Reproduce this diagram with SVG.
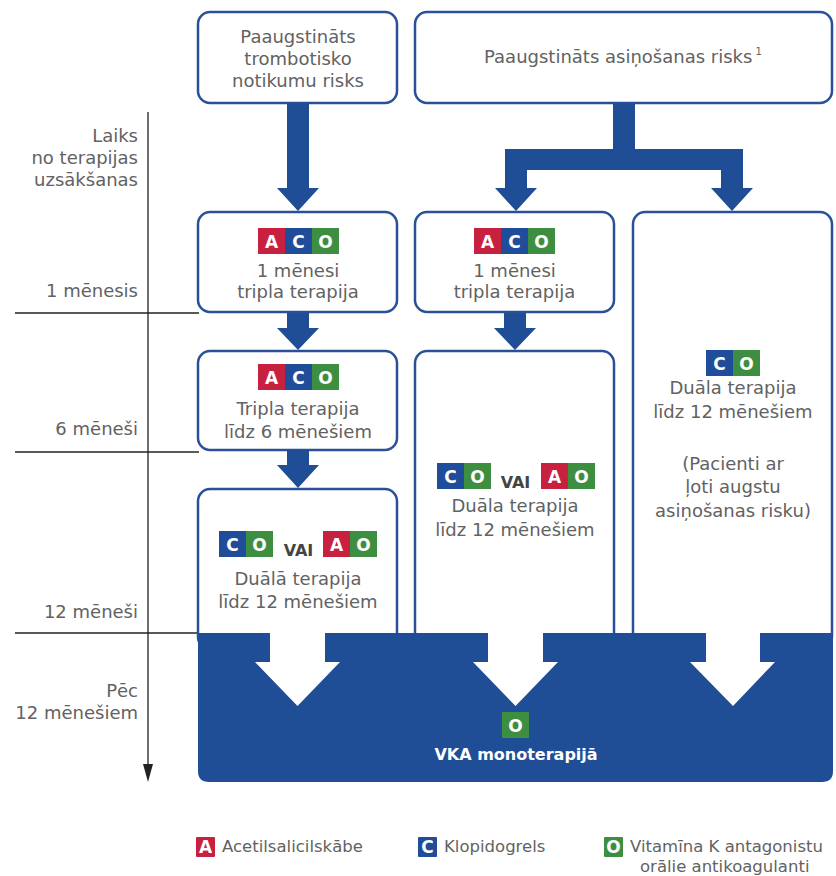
<svg xmlns="http://www.w3.org/2000/svg" width="836" height="876" viewBox="0 0 836 876">
<style>
.box{fill:#fff;stroke:#2a5197;stroke-width:2.5}
.arr{fill:#1f4e96}
.t{font-family:"DejaVu Sans",sans-serif;font-size:18px;fill:#626262;text-anchor:middle}
.lab{font-family:"DejaVu Sans",sans-serif;font-size:18px;fill:#626262;text-anchor:end}
.leg{font-family:"DejaVu Sans",sans-serif;font-size:16.5px;fill:#626262}
.bl{font-family:"DejaVu Sans",sans-serif;font-size:17px;font-weight:bold;fill:#fff;text-anchor:middle}
.vai{font-family:"DejaVu Sans",sans-serif;font-size:16px;font-weight:bold;fill:#444;text-anchor:middle}
.r{fill:#c8213f}.b{fill:#1f4d99}.g{fill:#3e8e41}
.ax{stroke:#222;stroke-width:1.3;fill:none}
</style>

<!-- timeline -->
<g id="timeline">
<line class="ax" x1="148" y1="112" x2="148" y2="766"/>
<polygon points="143,764 153,764 148,782" fill="#222"/>
<line class="ax" x1="15" y1="313" x2="199" y2="313"/>
<line class="ax" x1="15" y1="452" x2="199" y2="452"/>
<line class="ax" x1="15" y1="633" x2="199" y2="633"/>
<text class="lab" x="138" y="142">Laiks</text>
<text class="lab" x="138" y="164">no terapijas</text>
<text class="lab" x="138" y="186">uzsākšanas</text>
<text class="lab" x="138" y="297">1 mēnesis</text>
<text class="lab" x="138" y="435">6 mēneši</text>
<text class="lab" x="138" y="618">12 mēneši</text>
<text class="lab" x="138" y="697">Pēc</text>
<text class="lab" x="138" y="719">12 mēnešiem</text>
</g>

<g id="n-thrombotic">
<rect class="box" x="198" y="12" width="199" height="91" rx="12"/>
<text class="t" x="298" y="43">Paaugstināts</text>
<text class="t" x="298" y="65">trombotisko</text>
<text class="t" x="298" y="87">notikumu risks</text>
</g>

<g id="n-bleeding">
<rect class="box" x="415" y="12" width="417" height="91" rx="12"/>
<text class="t" x="623" y="63">Paaugstināts asiņošanas risks<tspan font-size="10" dy="-8"> 1</tspan></text>
</g>

<g id="n-left-1m">
<rect class="box" x="198" y="212" width="199" height="100" rx="12"/>
<rect class="r" x="258" y="228" width="27" height="26"/><rect class="b" x="285" y="228" width="27" height="26"/><rect class="g" x="312" y="228" width="27" height="26"/>
<text class="bl" x="271.5" y="247.5">A</text><text class="bl" x="298.5" y="247.5">C</text><text class="bl" x="325.5" y="247.5">O</text>
<text class="t" x="298" y="277">1 mēnesi</text>
<text class="t" x="298" y="298">tripla terapija</text>
</g>

<g id="n-mid-1m">
<rect class="box" x="415" y="212" width="199" height="100" rx="12"/>
<rect class="r" x="474" y="228" width="27" height="26"/><rect class="b" x="501" y="228" width="27" height="26"/><rect class="g" x="528" y="228" width="27" height="26"/>
<text class="bl" x="487.5" y="247.5">A</text><text class="bl" x="514.5" y="247.5">C</text><text class="bl" x="541.5" y="247.5">O</text>
<text class="t" x="514.5" y="277">1 mēnesi</text>
<text class="t" x="514.5" y="298">tripla terapija</text>
</g>

<g id="n-left-6m">
<rect class="box" x="198" y="351" width="199" height="99" rx="12"/>
<rect class="r" x="258" y="364" width="27" height="26"/><rect class="b" x="285" y="364" width="27" height="26"/><rect class="g" x="312" y="364" width="27" height="26"/>
<text class="bl" x="271.5" y="383.5">A</text><text class="bl" x="298.5" y="383.5">C</text><text class="bl" x="325.5" y="383.5">O</text>
<text class="t" x="298" y="415">Tripla terapija</text>
<text class="t" x="298" y="438">līdz 6 mēnešiem</text>
</g>

<g id="n-left-12m">
<rect class="box" x="198" y="489" width="199" height="160" rx="12"/>
<rect class="b" x="219" y="531" width="27" height="26"/><rect class="g" x="246" y="531" width="27" height="26"/>
<text class="bl" x="232.5" y="550.5">C</text><text class="bl" x="259.5" y="550.5">O</text>
<text class="vai" x="298.5" y="556">VAI</text>
<rect class="r" x="323" y="531" width="27" height="26"/><rect class="g" x="350" y="531" width="27" height="26"/>
<text class="bl" x="336.5" y="550.5">A</text><text class="bl" x="363.5" y="550.5">O</text>
<text class="t" x="298" y="585">Duālā terapija</text>
<text class="t" x="298" y="608">līdz 12 mēnešiem</text>
</g>

<g id="n-mid-12m">
<rect class="box" x="415" y="351" width="199" height="298" rx="12"/>
<rect class="b" x="437" y="463" width="27" height="26"/><rect class="g" x="464" y="463" width="27" height="26"/>
<text class="bl" x="450.5" y="482.5">C</text><text class="bl" x="477.5" y="482.5">O</text>
<text class="vai" x="515.5" y="488">VAI</text>
<rect class="r" x="541" y="463" width="27" height="26"/><rect class="g" x="568" y="463" width="27" height="26"/>
<text class="bl" x="554.5" y="482.5">A</text><text class="bl" x="581.5" y="482.5">O</text>
<text class="t" x="515" y="512">Duāla terapija</text>
<text class="t" x="515" y="536">līdz 12 mēnešiem</text>
</g>

<g id="n-right-12m">
<rect class="box" x="633" y="212" width="199" height="437" rx="12"/>
<rect class="b" x="706" y="350" width="27" height="26"/><rect class="g" x="733" y="350" width="27" height="26"/>
<text class="bl" x="719.5" y="369.5">C</text><text class="bl" x="746.5" y="369.5">O</text>
<text class="t" x="733" y="394">Duāla terapija</text>
<text class="t" x="733" y="418">līdz 12 mēnešiem</text>
<text class="t" x="733" y="470">(Pacienti ar</text>
<text class="t" x="733" y="493">ļoti augstu</text>
<text class="t" x="733" y="517">asiņošanas risku)</text>
</g>

<g id="n-vka">
<path d="M198,633 H833 V771 Q833,782 822,782 H209 Q198,782 198,771 Z" fill="#1f4e96"/>
<rect class="g" x="502" y="712" width="27" height="26"/>
<text class="bl" x="515.5" y="731.5">O</text>
<text x="516" y="760" font-family="DejaVu Sans,sans-serif" font-size="16" font-weight="bold" fill="#fff" text-anchor="middle">VKA monoterapijā</text>
</g>

<g id="connectors">
<polygon class="arr" points="287,103 309,103 309,188 319,188 298,211 277,188 287,188"/>
<polygon class="arr" points="613,103 635,103 635,149 743,149 743,188 753,188 732,211 711,188 721,188 721,170 527,170 527,188 537,188 516,211 495,188 505,188 505,149 613,149"/>
<polygon class="arr" points="287,313 309,313 309,328 319,328 298,350 277,328 287,328"/>
<polygon class="arr" points="504,313 526,313 526,328 536,328 515,350 494,328 504,328"/>
<polygon class="arr" points="287,450 309,450 309,465 319,465 298,488 277,465 287,465"/>
<polygon fill="#fff" points="270,633 325,633 325,662 340,662 297.5,706 255,662 270,662"/>
<polygon fill="#fff" points="488,633 543,633 543,662 558,662 515.5,706 473,662 488,662"/>
<polygon fill="#fff" points="706,633 760,633 760,662 775,662 733,706 690,662 706,662"/>
</g>

<g id="legend">
<rect class="r" x="196" y="837" width="19" height="20" rx="1"/>
<text class="bl" x="205.5" y="853" font-size="16">A</text>
<text class="leg" x="222" y="852">Acetilsalicilskābe</text>
<rect class="b" x="418" y="837" width="19" height="20" rx="1"/>
<text class="bl" x="427.5" y="853" font-size="16">C</text>
<text class="leg" x="444" y="852">Klopidogrels</text>
<rect class="g" x="604" y="837" width="19" height="20" rx="1"/>
<text class="bl" x="613.5" y="853" font-size="16">O</text>
<text class="leg" x="630" y="852">Vitamīna K antagonistu</text>
<text class="leg" x="640" y="872">orālie antikoagulanti</text>
</g>
</svg>
